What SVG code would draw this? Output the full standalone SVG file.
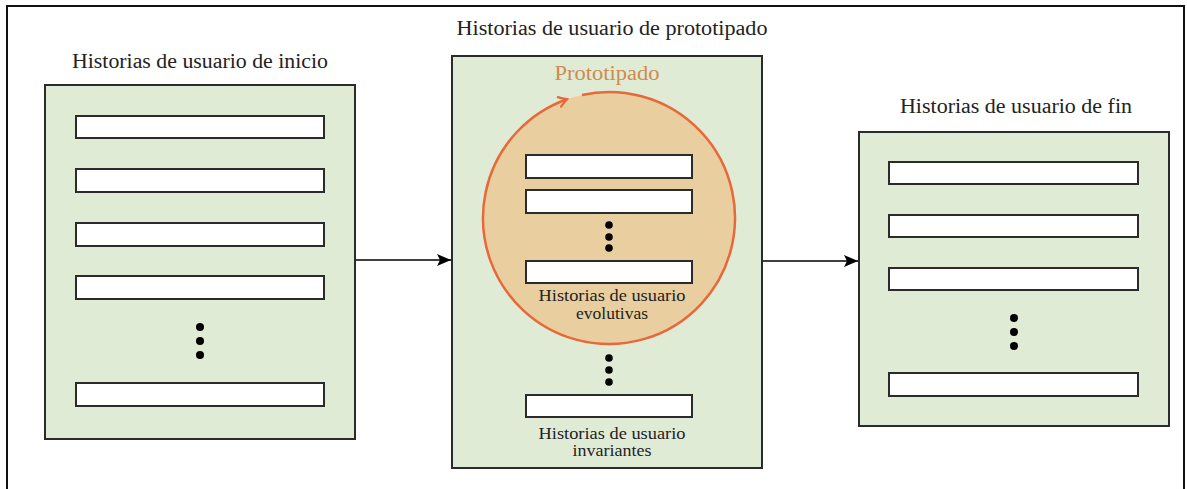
<svg xmlns="http://www.w3.org/2000/svg" width="1187" height="489" viewBox="0 0 1187 489">
<style>
.title{font-family:"Liberation Serif","DejaVu Serif",serif;font-size:20px;fill:#222;text-anchor:middle}
.lbl{font-family:"Liberation Serif","DejaVu Serif",serif;font-size:17px;fill:#222;text-anchor:middle}
.panel{fill:#e0ebd6;stroke:#2b2b2b;stroke-width:2}
.item{fill:#ffffff;stroke:#2b2b2b;stroke-width:2}
.dot{fill:#000}
.conn{stroke:#000;stroke-width:1.6;fill:none}
</style>
<defs>
<marker id="ah" viewBox="0 0 14 12" refX="14" refY="6" markerWidth="14" markerHeight="12" markerUnits="userSpaceOnUse" orient="auto">
<path d="M0,0 L14,6 L0,12 L3,6 Z" fill="#000"/>
</marker>
<marker id="oa" viewBox="0 0 12 12" refX="10" refY="6" markerWidth="12" markerHeight="12" markerUnits="userSpaceOnUse" orient="auto">
<path d="M2,1 Q6,4 10,6 Q6,8 2,11" fill="none" stroke="#e8683a" stroke-width="2.2" stroke-linecap="round"/>
</marker>
</defs>
<rect width="1187" height="489" fill="#fff"/>
<path d="M7,495 L7,6 L1184,6 L1184,495" fill="none" stroke="#111" stroke-width="2"/>

<g id="inicio">
<text class="title" x="200" y="68" textLength="256" lengthAdjust="spacingAndGlyphs">Historias de usuario de inicio</text>
<rect class="panel" x="45" y="85" width="310" height="354"/>
<rect class="item" x="76" y="116" width="248" height="22"/>
<rect class="item" x="76" y="169" width="248" height="23"/>
<rect class="item" x="76" y="223" width="248" height="23"/>
<rect class="item" x="76" y="276" width="248" height="23"/>
<circle class="dot" cx="200" cy="327" r="4"/>
<circle class="dot" cx="200" cy="341" r="4"/>
<circle class="dot" cx="200" cy="355" r="4"/>
<rect class="item" x="76" y="383" width="248" height="23"/>
</g>

<g id="prototipado">
<text class="title" x="612" y="35" textLength="311" lengthAdjust="spacingAndGlyphs">Historias de usuario de prototipado</text>
<rect class="panel" x="452" y="56" width="310" height="412"/>
<text x="607" y="80" font-family="'Liberation Serif','DejaVu Serif',serif" font-size="20" fill="#cf8a4e" text-anchor="middle" textLength="105" lengthAdjust="spacingAndGlyphs">Prototipado</text>
<circle cx="609" cy="218" r="126" fill="#e9cf9f"/>
<path d="M582,94.93 A126,126 0 1 1 567,99.21" fill="none" stroke="#e8683a" stroke-width="2.5" marker-end="url(#oa)"/>
<rect class="item" x="526" y="155" width="166" height="23"/>
<rect class="item" x="526" y="190" width="166" height="23"/>
<circle class="dot" cx="609" cy="225" r="3.8"/>
<circle class="dot" cx="609" cy="237" r="3.8"/>
<circle class="dot" cx="609" cy="248" r="3.8"/>
<rect class="item" x="526" y="261" width="166" height="22"/>
<text class="lbl" x="612" y="301" textLength="147" lengthAdjust="spacingAndGlyphs">Historias de usuario</text>
<text class="lbl" x="612" y="319" textLength="72" lengthAdjust="spacingAndGlyphs">evolutivas</text>
<circle class="dot" cx="609" cy="358" r="3.8"/>
<circle class="dot" cx="609" cy="370" r="3.8"/>
<circle class="dot" cx="609" cy="382" r="3.8"/>
<rect class="item" x="526" y="395" width="166" height="22"/>
<text class="lbl" x="612" y="439" textLength="147" lengthAdjust="spacingAndGlyphs">Historias de usuario</text>
<text class="lbl" x="612" y="456" textLength="79" lengthAdjust="spacingAndGlyphs">invariantes</text>
</g>

<g id="fin">
<text class="title" x="1016" y="113" textLength="232" lengthAdjust="spacingAndGlyphs">Historias de usuario de fin</text>
<rect class="panel" x="859" y="132" width="310" height="294"/>
<rect class="item" x="889" y="162" width="249" height="22"/>
<rect class="item" x="889" y="215" width="249" height="22"/>
<rect class="item" x="889" y="268" width="249" height="22"/>
<circle class="dot" cx="1014" cy="318" r="4"/>
<circle class="dot" cx="1014" cy="332" r="4"/>
<circle class="dot" cx="1014" cy="346" r="4"/>
<rect class="item" x="889" y="373" width="249" height="23"/>
</g>

<g id="connectors">
<line class="conn" x1="356" y1="260" x2="451" y2="260" marker-end="url(#ah)"/>
<line class="conn" x1="763" y1="261" x2="858" y2="261" marker-end="url(#ah)"/>
</g>
</svg>
